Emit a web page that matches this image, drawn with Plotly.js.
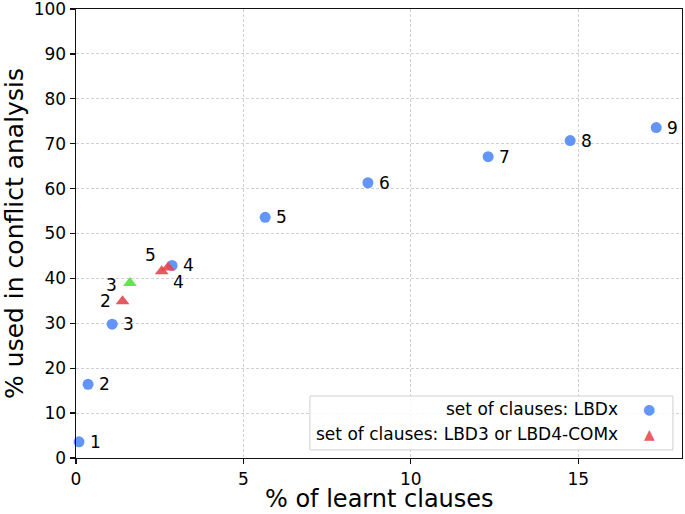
<!DOCTYPE html>
<html>
<head>
<meta charset="utf-8">
<script src="https://cdn.plot.ly/plotly-3.0.1.min.js"></script>
<style>html,body{margin:0;padding:0;background:#fff;}#chart{width:685px;height:514px;}</style>
</head>
<body>
<div id="chart"></div>
<script>
// LBDx series (blue circles)
const lbdLabels = ['1','2','3','4','5','6','7','8','9'];
const lbdX = [0.09, 0.36, 1.08, 2.87, 5.65, 8.72, 12.31, 14.76, 17.33];
const lbdY = [3.6, 16.4, 29.8, 42.9, 53.6, 61.3, 67.1, 70.7, 73.6];

// LBD3 / LBD4-COMx series (red triangles)
const comLabels = ['2','4','5'];
const comX = [1.39, 2.75, 2.56];
const comY = [34.9, 42.4, 41.6];

// green triangle
const greenLabels = ['3'];
const greenX = [1.61];
const greenY = [39.0];

const xTicks = [0, 5, 10, 15];
const yTicks = [0, 10, 20, 30, 40, 50, 60, 70, 80, 90, 100];
const legendLabels = ['set of clauses: LBDx', 'set of clauses: LBD3 or LBD4-COMx'];
const xTitle = '% of learnt clauses';
const yTitle = '% used in conflict analysis';

const BLUE = 'rgba(85,140,245,0.92)';
const RED = 'rgba(230,70,80,0.9)';
const GREEN = 'rgba(80,225,60,0.9)';
const FONT = 'DejaVu Sans, sans-serif';

const traces = [
  {x: lbdX, y: lbdY, mode: 'markers', type: 'scatter', name: legendLabels[0],
   marker: {symbol: 'circle', size: 11, color: BLUE}, cliponaxis: false},
  {x: comX, y: comY, mode: 'markers', type: 'scatter', name: legendLabels[1],
   marker: {symbol: 'triangle-up', size: 12, color: RED}, cliponaxis: false},
  {x: greenX, y: greenY, mode: 'markers', type: 'scatter', name: 'green',
   marker: {symbol: 'triangle-up', size: 12, color: GREEN}, cliponaxis: false}
];

const annotations = [];
lbdLabels.forEach((t, i) => annotations.push({
  x: lbdX[i], y: lbdY[i], xref: 'x', yref: 'y', text: t, showarrow: false,
  xanchor: 'left', yanchor: 'middle', xshift: 9, font: {family: FONT, size: 17, color: '#000'}
}));
const comShift = [{xs: -10, ys: 0, xa: 'right'}, {xs: 3, ys: -14, xa: 'left'}, {xs: -4, ys: 16, xa: 'right'}];
comLabels.forEach((t, i) => annotations.push({
  x: comX[i], y: comY[i], xref: 'x', yref: 'y', text: t, showarrow: false,
  xanchor: comShift[i].xa, yanchor: 'middle', xshift: comShift[i].xs, yshift: comShift[i].ys,
  font: {family: FONT, size: 17, color: '#000'}
}));
greenLabels.forEach((t, i) => annotations.push({
  x: greenX[i], y: greenY[i], xref: 'x', yref: 'y', text: t, showarrow: false,
  xanchor: 'right', yanchor: 'middle', xshift: -11, yshift: -2,
  font: {family: FONT, size: 17, color: '#000'}
}));
// legend (symbols on the right, text right-aligned)
const legRows = [0.109, 0.053];
const legSyms = ['●', '▲'];
const legCols = [BLUE, RED];
legendLabels.forEach((t, i) => {
  annotations.push({x: 0.897, y: legRows[i], xref: 'paper', yref: 'paper', text: t, showarrow: false,
    xanchor: 'right', yanchor: 'middle', font: {family: FONT, size: 17, color: '#000'}});
  annotations.push({x: 0.946, y: legRows[i], xref: 'paper', yref: 'paper', text: legSyms[i], showarrow: false,
    xanchor: 'center', yanchor: 'middle', font: {family: FONT, size: 14, color: legCols[i]}});
});
// x-axis title as annotation (placed lower than Plotly's default)
annotations.push({x: 0.5, y: 0, xref: 'paper', yref: 'paper', text: xTitle, showarrow: false,
  xanchor: 'center', yanchor: 'bottom', yshift: -56, borderpad: 0,
  font: {family: FONT, size: 24, color: '#000'}});

const axisCommon = {
  showline: true, linecolor: '#111', linewidth: 1.4, mirror: true,
  ticks: 'outside', ticklen: 5, tickcolor: '#111', tickwidth: 1.3,
  showgrid: true, gridcolor: '#c4c4c4', griddash: '3px,2px', gridwidth: 0.8,
  zeroline: false, ticklabeloverflow: 'allow',
  tickfont: {family: FONT, size: 17, color: '#000'}
};

const layout = {
  width: 685, height: 514,
  margin: {l: 76, r: 3, t: 9, b: 56},
  paper_bgcolor: '#fff', plot_bgcolor: '#fff',
  showlegend: false,
  xaxis: Object.assign({}, axisCommon, {range: [0, 18.1], tickvals: xTicks}),
  yaxis: Object.assign({}, axisCommon, {range: [0, 100], tickvals: yTicks,
    title: {text: yTitle, font: {family: FONT, size: 25, color: '#000'}}}),
  annotations: annotations,
  shapes: [{type: 'rect', xref: 'paper', yref: 'paper', x0: 0.386, x1: 0.985, y0: 0.018, y1: 0.138,
    line: {color: '#d0d0d0', width: 1}, fillcolor: 'rgba(255,255,255,0.85)', layer: 'above'}]
};

Plotly.newPlot('chart', traces, layout, {displayModeBar: false, staticPlot: true});
</script>
</body>
</html>
